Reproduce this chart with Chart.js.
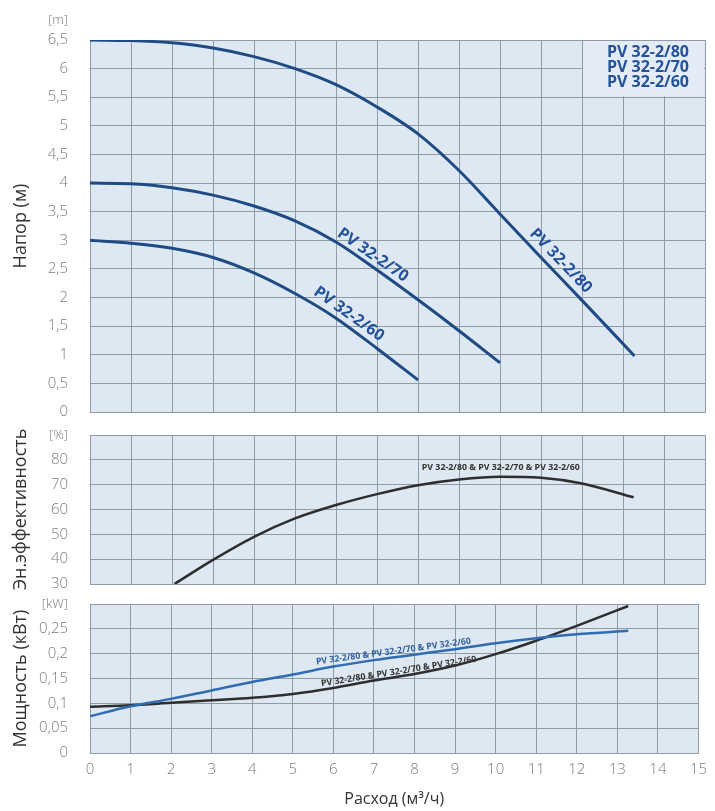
<!DOCTYPE html>
<html>
<head>
<meta charset="utf-8">
<script src="https://cdn.jsdelivr.net/npm/chart.js@4.4.1/dist/chart.umd.min.js"></script>
<style>
  body { margin: 0; background: #fff; }
  #wrap { position: relative; width: 715px; height: 811px; }
  canvas { position: absolute; left: 0; }
</style>
</head>
<body>
<div id="wrap">
  <canvas id="headChart" width="715" height="424" style="top:0"></canvas>
  <canvas id="effChart" width="715" height="190" style="top:410px"></canvas>
  <canvas id="powerChart" width="715" height="221" style="top:590px"></canvas>
</div>
<script>
// head curves (m) vs flow (m3/h)
const flowHead80 = [0, 1, 2, 3, 4, 5, 6, 7, 8, 9, 10, 11, 12, 13.28];
const head80 = [6.5, 6.49, 6.45, 6.36, 6.21, 6.0, 5.72, 5.33, 4.86, 4.22, 3.46, 2.7, 1.95, 0.98];
const flowHead70 = [0, 1, 2, 3, 4, 5, 6, 7, 8, 9, 10];
const head70 = [4.0, 3.99, 3.92, 3.79, 3.6, 3.34, 2.97, 2.48, 1.96, 1.42, 0.86];
const flowHead60 = [0, 1, 2, 3, 4, 5, 6, 7, 8];
const head60 = [3.0, 2.95, 2.86, 2.7, 2.43, 2.07, 1.64, 1.11, 0.56];

// efficiency (%)
const flowEff = [2.06, 3, 4, 5, 6, 7, 8, 9, 10, 11, 12, 13.26];
const efficiency = [30, 39.7, 49.0, 56.4, 61.8, 66.2, 69.8, 72.1, 73.2, 72.8, 70.5, 64.9];

// power (kW)
const flowPower = [0, 1, 2, 3, 4, 5, 6, 7, 8, 9, 10, 11, 12, 13.27];
const powerBlue = [0.074, 0.094, 0.109, 0.126, 0.143, 0.158, 0.174, 0.187, 0.198, 0.209, 0.221, 0.231, 0.239, 0.246];
const powerBlack = [0.093, 0.096, 0.101, 0.106, 0.111, 0.119, 0.131, 0.146, 0.159, 0.176, 0.199, 0.226, 0.256, 0.296];

const modelNames = ["PV 32-2/80", "PV 32-2/70", "PV 32-2/60"];
const allModels = "PV 32-2/80 & PV 32-2/70 & PV 32-2/60";

const bgColor = "#dde8f3";
const gridColor = "#8f9ba7";
const tickColor = "#7c7c7c";
const headBlue = "#1f4b84";
const textBlue = "#24529a";
const FONT = '"Open Sans", "DejaVu Sans", sans-serif';

Chart.defaults.font.family = FONT;

function pts(xs, ys) {
  return xs.map((x, i) => ({ x: x, y: ys[i] }));
}

function interp(xs, ys, v) {
  for (let i = 1; i < xs.length; i++) {
    if (v <= xs[i]) {
      const t = (v - xs[i - 1]) / (xs[i] - xs[i - 1]);
      return ys[i - 1] + t * (ys[i] - ys[i - 1]);
    }
  }
  return ys[ys.length - 1];
}

function fmt(v) {
  return String(Number(v.toFixed(2))).replace(".", ",");
}

//plugins (settings kept in closures)
const plotBg = {
  id: "plotBg",
  beforeDraw(chart) {
    const a = chart.chartArea;
    chart.ctx.save();
    chart.ctx.fillStyle = bgColor;
    chart.ctx.fillRect(a.left, a.top, a.right - a.left, a.bottom - a.top);
    chart.ctx.restore();
  },
};

function unitLabel(text, dy) {
  return {
    id: "unitLabel",
    afterDraw(chart) {
      const ctx = chart.ctx;
      ctx.save();
      ctx.font = "300 13px " + FONT;
      ctx.fillStyle = tickColor;
      ctx.textAlign = "right";
      ctx.textBaseline = "middle";
      ctx.fillText(text, chart.chartArea.left - 22, chart.chartArea.top + dy);
      ctx.restore();
    },
  };
}

function curveLabels(items) {
  return {
    id: "curveLabels",
    afterDatasetsDraw(chart) {
      const ctx = chart.ctx;
      const x = chart.scales.x;
      const y = chart.scales.y;
      items.forEach((it) => {
        const px = x.getPixelForValue(it.at);
        const py = y.getPixelForValue(interp(it.xs, it.ys, it.at));
        let angle = 0;
        if (!it.flat) {
          const x0 = x.getPixelForValue(it.at - 0.3);
          const y0 = y.getPixelForValue(interp(it.xs, it.ys, it.at - 0.3));
          const x1 = x.getPixelForValue(it.at + 0.3);
          const y1 = y.getPixelForValue(interp(it.xs, it.ys, it.at + 0.3));
          angle = Math.atan2(y1 - y0, x1 - x0);
        }
        ctx.save();
        ctx.translate(px, py);
        ctx.rotate(angle);
        ctx.font = it.font;
        ctx.fillStyle = it.color;
        ctx.textAlign = "center";
        ctx.textBaseline = "middle";
        if (it.width) ctx.fillText(it.text, 0, -it.offset, it.width);
        else ctx.fillText(it.text, 0, -it.offset);
        ctx.restore();
      });
    },
  };
}

function modelBox(xFrom, yTo) {
  return {
    id: "modelBox",
    beforeDatasetsDraw(chart) {
      const ctx = chart.ctx;
      const x = chart.scales.x;
      const y = chart.scales.y;
      const l = x.getPixelForValue(xFrom) + 1;
      const r = x.getPixelForValue(x.max) - 1;
      const t = y.getPixelForValue(y.max) + 1;
      const b = y.getPixelForValue(yTo) - 1;
      ctx.save();
      ctx.fillStyle = "#e3ecf6";
      ctx.fillRect(l, t, r - l, b - t);
      ctx.font = "bold 16px " + FONT;
      ctx.fillStyle = textBlue;
      ctx.textAlign = "right";
      ctx.textBaseline = "middle";
      modelNames.forEach((name, i) => {
        ctx.fillText(name, r - 15, t + 11 + i * 15);
      });
      ctx.restore();
    },
  };
}

function xScale(showTicks) {
  return {
    type: "linear",
    min: 0,
    max: 15,
    ticks: {
      stepSize: 1,
      display: showTicks,
      padding: 8,
      color: tickColor,
      font: { size: 15, weight: "300" },
    },
    grid: { color: gridColor, drawTicks: false },
    border: { color: gridColor },
    title: {
      display: showTicks,
      text: "Расход (м³/ч)",
      color: "#333",
      font: { size: 16 },
      padding: { top: 0, bottom: 2 },
    },
    afterFit: (s) => {
      s.height = showTicks ? 58 : 0;
    },
  };
}

function yScale(min, max, step, title, hideMax) {
  return {
    min: min,
    max: max,
    ticks: {
      stepSize: step,
      padding: 0,
      color: tickColor,
      font: { size: 15, weight: "300" },
      callback: (v) => (hideMax && Math.abs(v - max) < 1e-9 ? "" : fmt(v)),
    },
    // invisible tick marks push the labels 22px left of the plot
    grid: { color: gridColor, drawTicks: true, tickLength: 22, tickColor: "rgba(0,0,0,0)" },
    border: { color: gridColor },
    title: {
      display: true,
      text: title,
      color: "#333",
      font: { size: 18 },
      padding: { top: 0, bottom: 0 },
    },
    afterFit: (s) => {
      s.width = 80;
    },
  };
}

function line(xs, ys, color, width) {
  return {
    data: pts(xs, ys),
    borderColor: color,
    borderWidth: width,
    pointRadius: 0,
    fill: false,
    cubicInterpolationMode: "monotone",
  };
}

function baseOptions(pad) {
  return {
    responsive: false,
    animation: false,
    devicePixelRatio: 1,
    layout: { autoPadding: false, padding: pad },
  };
}

const noLegend = { legend: { display: false }, tooltip: { enabled: false } };
const headFont = "bold 16px " + FONT;
const smallFont = "bold 9px " + FONT;

new Chart(document.getElementById("headChart"), {
  type: "line",
  data: {
    datasets: [
      line(flowHead80, head80, headBlue, 3),
      line(flowHead70, head70, headBlue, 3),
      line(flowHead60, head60, headBlue, 3),
    ],
  },
  options: {
    ...baseOptions({ left: 10, right: 10, top: 40, bottom: 12 }),
    scales: { x: xScale(false), y: yScale(0, 6.5, 0.5, "Напор (м)", false) },
    plugins: noLegend,
  },
  plugins: [
    plotBg,
    unitLabel("[m]", -20),
    modelBox(12, 5.5),
    curveLabels([
      { xs: flowHead80, ys: head80, at: 11.27, offset: 12, text: modelNames[0], font: headFont, color: textBlue },
      { xs: flowHead70, ys: head70, at: 6.76, offset: 10, text: modelNames[1], font: headFont, color: textBlue },
      { xs: flowHead60, ys: head60, at: 6.16, offset: 11, text: modelNames[2], font: headFont, color: textBlue },
    ]),
  ],
});

new Chart(document.getElementById("effChart"), {
  type: "line",
  data: { datasets: [line(flowEff, efficiency, "#2e2e2e", 2.5)] },
  options: {
    ...baseOptions({ left: 10, right: 10, top: 25, bottom: 16 }),
    scales: { x: xScale(false), y: yScale(30, 90, 10, "Эн.эффективность", true) },
    plugins: noLegend,
  },
  plugins: [
    plotBg,
    unitLabel("[%]", 0),
    curveLabels([
      { xs: flowEff, ys: efficiency, at: 10.02, offset: 9, flat: true, width: 158, text: allModels, font: smallFont, color: "#333" },
    ]),
  ],
});

new Chart(document.getElementById("powerChart"), {
  type: "line",
  data: {
    datasets: [
      line(flowPower, powerBlue, "#2f6cb2", 2.5),
      line(flowPower, powerBlack, "#2e2e2e", 2.5),
    ],
  },
  options: {
    ...baseOptions({ left: 10, right: 10, top: 14, bottom: 0 }),
    scales: { x: xScale(true), y: yScale(0, 0.3, 0.05, "Мощность (кВт)", true) },
    plugins: noLegend,
  },
  plugins: [
    plotBg,
    unitLabel("[kW]", 0),
    curveLabels([
      { xs: flowPower, ys: powerBlue, at: 7.5, offset: 6, width: 156, text: allModels, font: smallFont, color: "#2f5f9e" },
      { xs: flowPower, ys: powerBlack, at: 7.63, offset: 5, width: 157, text: allModels, font: smallFont, color: "#333" },
    ]),
  ],
});
</script>
</body>
</html>
